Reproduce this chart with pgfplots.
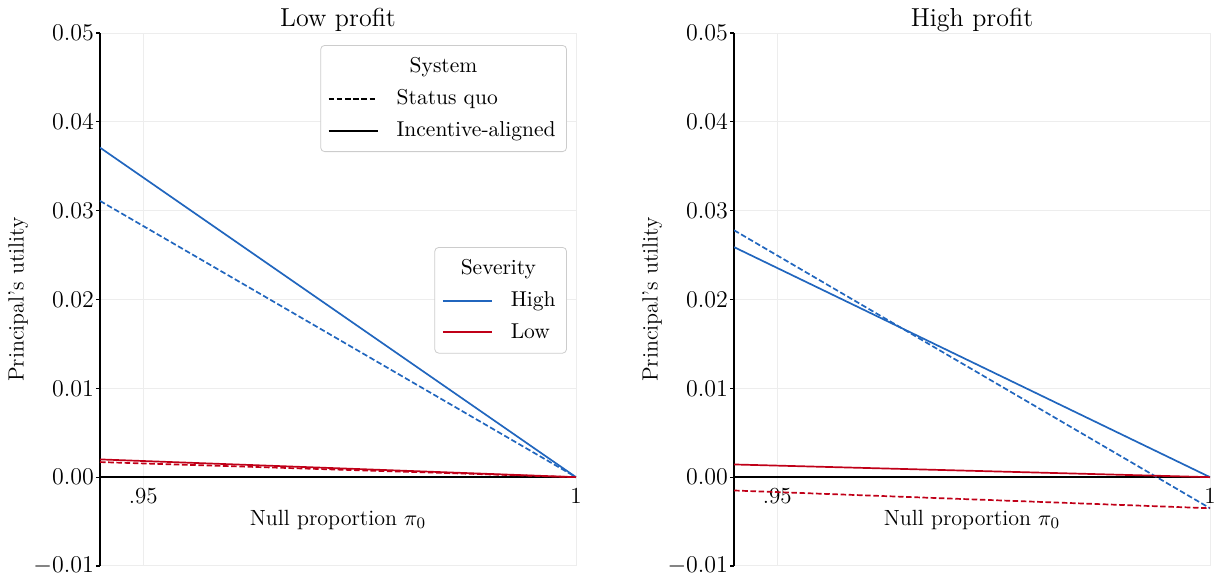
\documentclass[border=0pt]{standalone}
\usepackage{pgfplots}
\pgfplotsset{compat=1.18}
\definecolor{sevhigh}{RGB}{33,102,190}
\definecolor{sevlow}{RGB}{192,0,24}
\pgfplotsset{
  panel/.style={
    scale only axis, width=238pt, height=266.5pt,
    xmin=0.945, xmax=1, ymin=-0.01, ymax=0.05,
    axis x line=middle, axis y line=left,
    axis line style={-, line width=1pt, black},
    every inner x axis line/.append style={-},
    every outer y axis line/.append style={-},
    hide obscured x ticks=false, hide obscured y ticks=false,
    xtick={0.95,1}, xticklabels={.95,1},
    ytick={-0.01,0,0.01,0.02,0.03,0.04,0.05},
    scaled y ticks=false,
    yticklabel style={/pgf/number format/fixed, /pgf/number format/fixed zerofill, /pgf/number format/precision=2, xshift=2.5pt},
    xtick style={draw=none},
    ytick style={black, line width=0.6pt},
    tick align=outside, major tick length=2pt,
    grid=major, grid style={black!7, line width=0.5pt},
    tick label style={font=\fontsize{11.5}{13}\selectfont},
    label style={font=\fontsize{11}{13}\selectfont},
    xlabel={Null proportion $\pi_0$},
    xlabel style={at={(axis description cs:0.5,0.0863)}, anchor=center},
    ylabel={Principal's utility},
    ylabel style={at={(axis description cs:-0.172,0.5)}, anchor=center},
    title style={font=\fontsize{13}{15}\selectfont, at={(axis description cs:0.5,1)}, anchor=center, yshift=0.5pt},
    every axis plot/.append style={line width=0.85pt},
  },
  sq/.style={dash pattern=on 2.8pt off 1.3pt},
  legbox/.style={
    legend style={draw=black!20, rounded corners=2pt, fill=white,
      font=\fontsize{10.75}{13}\selectfont, row sep=3pt, inner ysep=4pt, inner xsep=3.5pt,
      /tikz/every odd column/.append style={column sep=7pt}},
    legend cell align=left,
    legend image code/.code={\draw[line width=1pt, ##1] (0pt,0pt) -- (24.5pt,0pt);},
  },
}
\begin{document}
\begin{tikzpicture}
\useasboundingbox (0,0) rectangle (607pt,-289.5pt);
% Left panel
\begin{axis}[panel, at={(50pt,-16.5pt)}, anchor=north west, title={Low profit},
  legbox, legend style={at={(axis description cs:0.981,0.9775)}, anchor=north east}]
\addplot[sevhigh, forget plot] coordinates {(0.945,0.0371) (1,0)};
\addplot[sevhigh, sq, forget plot] coordinates {(0.945,0.0311) (1,0)};
\addplot[sevlow, forget plot] coordinates {(0.945,0.0020) (1,0)};
\addplot[sevlow, sq, forget plot] coordinates {(0.945,0.0017) (1,0)};
\addlegendimage{empty legend}
\addlegendentry{\hspace{6.5pt}System}
\addlegendimage{black, sq}
\addlegendentry{Status quo}
\addlegendimage{black}
\addlegendentry{Incentive-aligned}
\end{axis}
\begin{axis}[scale only axis, width=238pt, height=266.5pt, at={(50pt,-16.5pt)}, anchor=north west,
  hide axis, xmin=0, xmax=1, ymin=0, ymax=1,
  legbox, legend style={at={(axis description cs:0.981,0.5985)}, anchor=north east}]
\addlegendimage{empty legend}
\addlegendentry{\hspace{-25pt}Severity}
\addlegendimage{draw=sevhigh}
\addlegendentry{High}
\addlegendimage{draw=sevlow}
\addlegendentry{Low}
\end{axis}
% Right panel
\begin{axis}[panel, at={(367pt,-16.5pt)}, anchor=north west, title={High profit}]
\addplot[sevhigh] coordinates {(0.945,0.0259) (1,0)};
\addplot[sevhigh, sq] coordinates {(0.945,0.0278) (1,-0.0035)};
\addplot[sevlow] coordinates {(0.945,0.00143) (1,0)};
\addplot[sevlow, sq] coordinates {(0.945,-0.0015) (1,-0.0035)};
\end{axis}
\end{tikzpicture}
\end{document}
